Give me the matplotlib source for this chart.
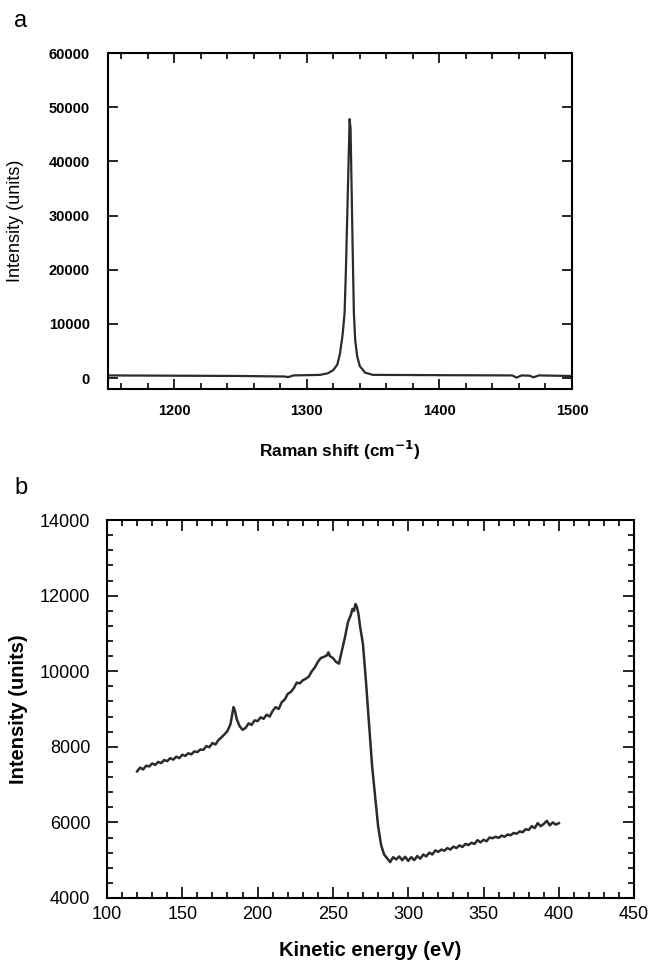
import numpy as np
import matplotlib
matplotlib.use('Agg')
import matplotlib.pyplot as plt
from matplotlib.ticker import MultipleLocator

plt.rcParams['font.family'] = ['Liberation Sans', 'DejaVu Sans']

# --panel a: Raman spectrum--
raman_shift = [1150, 1200, 1250, 1283, 1286, 1290, 1310, 1316, 1320, 1323,
               1325, 1327, 1328.5, 1329.5, 1330.5, 1331.5, 1332.3, 1333,
               1333.8, 1334.5, 1335.5, 1336.5, 1338, 1340, 1344, 1350,
               1400, 1455, 1458, 1462, 1468, 1471, 1475, 1500]
raman_int = [500, 450, 400, 300, 200, 500, 600, 900, 1500, 2500,
             4500, 8000, 12000, 20000, 30000, 40000, 47800, 46000,
             35000, 25000, 12000, 7000, 4000, 2200, 1000, 600,
             550, 500, 100, 500, 450, 150, 500, 400]

# --panel b: Auger spectrum--
kin_energy = [120, 122, 124, 126, 128, 130, 132, 134, 136, 138, 140, 142,
              144, 146, 148, 150, 152, 154, 156, 158, 160, 162, 164, 166,
              168, 170, 172, 174, 176, 178, 180, 182, 184, 185, 186, 188,
              190, 192, 194, 196, 198, 200, 202, 204, 206, 208, 210, 212,
              214, 216, 218, 220, 222, 224, 226, 228, 230, 232, 234, 236,
              238, 240, 242, 244, 246, 247, 248, 250, 252, 254, 256, 258,
              260, 262, 263, 264, 265, 266, 267, 268, 270, 272, 274, 276,
              278, 280, 282, 284, 286, 288, 290, 292, 294, 296, 298, 300,
              302, 304, 306, 308, 310, 312, 314, 316, 318, 320, 322, 324,
              326, 328, 330, 332, 334, 336, 338, 340, 342, 344, 346, 348,
              350, 352, 354, 356, 358, 360, 362, 364, 366, 368, 370, 372,
              374, 376, 378, 380, 382, 384, 386, 388, 390, 392, 394, 396,
              398, 400]
auger_int = [7350, 7450, 7400, 7500, 7480, 7560, 7520, 7600, 7570, 7650,
             7620, 7700, 7660, 7740, 7700, 7790, 7760, 7830, 7800, 7880,
             7860, 7930, 7920, 8020, 7990, 8100, 8060, 8180, 8250, 8330,
             8420, 8600, 9050, 8950, 8750, 8550, 8450, 8500, 8620, 8580,
             8700, 8680, 8780, 8740, 8850, 8800, 8950, 9050, 9000, 9180,
             9250, 9400, 9450, 9550, 9700, 9680, 9760, 9800, 9860, 10000,
             10100, 10250, 10350, 10380, 10420, 10500, 10400, 10350, 10250,
             10200, 10550, 10900, 11300, 11500, 11650, 11600, 11780, 11700,
             11500, 11200, 10700, 9700, 8600, 7500, 6700, 5900, 5400, 5150,
             5050, 4950, 5080, 5020, 5100, 5000, 5090, 4980, 5080, 5000,
             5110, 5040, 5150, 5100, 5200, 5150, 5260, 5220, 5280, 5250,
             5320, 5280, 5360, 5320, 5390, 5350, 5430, 5400, 5460, 5430,
             5530, 5470, 5540, 5500, 5600, 5580, 5620, 5590, 5650, 5620,
             5680, 5660, 5720, 5700, 5760, 5740, 5820, 5800, 5900, 5850,
             5980, 5900, 5960, 6040, 5920, 6000, 5940, 5980]

line_col = '#2b2b2b'

fig = plt.figure(figsize=(6.5, 9.64), dpi=100)

# panel a
ax1 = fig.add_axes([0.166, 0.5965, 0.714, 0.3485])
ax1.plot(raman_shift, raman_int, color=line_col, lw=1.6)
ax1.set_xlim(1150, 1500)
ax1.set_ylim(-2000, 60000)
ax1.xaxis.set_major_locator(MultipleLocator(100))
ax1.xaxis.set_minor_locator(MultipleLocator(20))
ax1.yaxis.set_major_locator(MultipleLocator(10000))
ax1.tick_params(which='both', direction='in', top=True, right=True, width=1.2)
ax1.tick_params(which='major', length=7)
ax1.tick_params(which='minor', length=4)
ax1.tick_params(axis='x', pad=11, labelsize=10.5)
ax1.tick_params(axis='y', pad=13, labelsize=10.5)
for lab in ax1.get_xticklabels() + ax1.get_yticklabels():
    lab.set_fontweight('bold')
for s in ax1.spines.values():
    s.set_linewidth(1.5)
ax1.set_xlabel('Raman shift (cm$^{\\mathbf{-1}}$)', fontsize=12.5, fontweight='bold')
ax1.set_ylabel('Intensity (units)', fontsize=13)
ax1.xaxis.set_label_coords(0.5, -0.15)
ax1.yaxis.set_label_coords(-0.18, 0.5)

# panel b
ax2 = fig.add_axes([0.1646, 0.0685, 0.811, 0.392])
ax2.plot(kin_energy, auger_int, color=line_col, lw=1.8)
ax2.set_xlim(100, 450)
ax2.set_ylim(4000, 14000)
ax2.xaxis.set_major_locator(MultipleLocator(50))
ax2.xaxis.set_minor_locator(MultipleLocator(10))
ax2.yaxis.set_major_locator(MultipleLocator(2000))
ax2.yaxis.set_minor_locator(MultipleLocator(400))
ax2.tick_params(which='both', direction='in', top=True, right=True, width=1.2)
ax2.tick_params(which='major', length=8)
ax2.tick_params(which='minor', length=4.5)
ax2.tick_params(axis='x', pad=6, labelsize=13)
ax2.tick_params(axis='y', pad=12, labelsize=13)
for s in ax2.spines.values():
    s.set_linewidth(1.5)
ax2.set_xlabel('Kinetic energy (eV)', fontsize=14.5, fontweight='bold')
ax2.set_ylabel('Intensity (units)', fontsize=14.5, fontweight='bold')
ax2.xaxis.set_label_coords(0.5, -0.115)
ax2.yaxis.set_label_coords(-0.15, 0.5)

fig.text(0.022, 0.972, 'a', fontsize=17)
fig.text(0.022, 0.488, 'b', fontsize=17)

fig.savefig('out.png', dpi=100)
